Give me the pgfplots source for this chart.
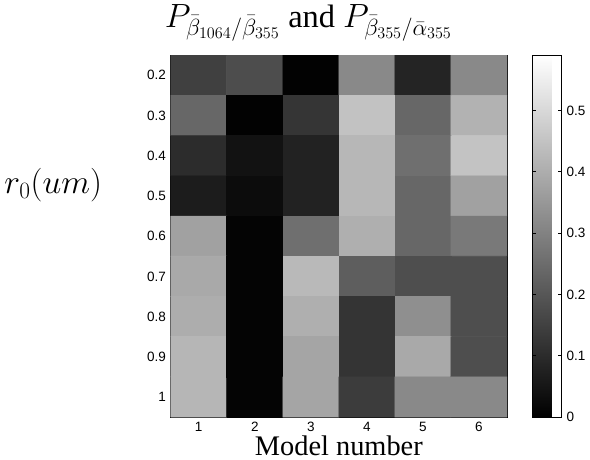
\documentclass[border=0pt]{standalone}
\usepackage{fontspec}
\setmainfont{Liberation Serif}
\setsansfont{Liberation Sans}
\usepackage{pgfplots}
\pgfplotsset{compat=1.18}

% cell values, rows r0 = 0.2 ... 1, columns model 1 ... 6
\pgfplotstableread{
x y c
1 0.2 0.148
2 0.2 0.176
3 0.2 0.005
4 0.2 0.315
5 0.2 0.083
6 0.2 0.315
1 0.3 0.236
2 0.3 0.005
3 0.3 0.122
4 0.3 0.445
5 0.3 0.236
6 0.3 0.408
1 0.4 0.102
2 0.4 0.042
3 0.4 0.079
4 0.4 0.421
5 0.4 0.255
6 0.4 0.449
1 0.5 0.065
2 0.5 0.028
3 0.5 0.079
4 0.5 0.421
5 0.5 0.236
6 0.5 0.370
1 0.6 0.370
2 0.6 0.009
3 0.6 0.255
4 0.6 0.403
5 0.6 0.236
6 0.6 0.278
1 0.7 0.389
2 0.7 0.009
3 0.7 0.426
4 0.7 0.217
5 0.7 0.180
6 0.7 0.180
1 0.8 0.398
2 0.8 0.009
3 0.8 0.403
4 0.8 0.120
5 0.8 0.329
6 0.8 0.180
1 0.9 0.419
2 0.9 0.009
3 0.9 0.380
4 0.9 0.120
5 0.9 0.389
6 0.9 0.180
1 1.0 0.419
2 1.0 0.009
3 1.0 0.380
4 1.0 0.139
5 1.0 0.315
6 1.0 0.315
}\cells

\begin{document}
\begin{tikzpicture}
\begin{axis}[
    scale only axis,
    width=249pt, height=268pt,
    xmin=0.5, xmax=6.5,
    ymin=0.15, ymax=1.05,
    y dir=reverse,
    xtick={1,...,6},
    ytick={0.2,0.3,0.4,0.5,0.6,0.7,0.8,0.9,1.0},
    yticklabels={0.2,0.3,0.4,0.5,0.6,0.7,0.8,0.9,1},
    tick align=inside,
    major tick length=3pt,
    tick style={black, line width=0.5pt},
    axis line style={line width=0.8pt},
    /pgf/number format/assume math mode=true,
    ticklabel style={font=\sffamily\fontsize{10}{11}\selectfont},
    colormap/blackwhite,
    point meta min=0, point meta max=0.59,
    title={$P_{\bar\beta_{1064}/\bar\beta_{355}}$ and $P_{\bar\beta_{355}/\bar\alpha_{355}}$},
    title style={at={(0.41,1)}, anchor=south, yshift=1pt,
                 font=\fontsize{24}{26}\selectfont},
    xlabel={Model number},
    xlabel style={font=\fontsize{21}{23}\selectfont, yshift=4pt},
    ylabel={$r_0\bigl(um\bigr)$},
    ylabel style={rotate=-90, anchor=east,
                  at={(axis description cs:-0.19,0.64)},
                  font=\fontsize{25}{27}\selectfont},
    colorbar,
    colorbar style={
        at={(1.075,1)}, anchor=north west,
        width=22pt,
        ytick={0,0.1,0.2,0.3,0.4,0.5},
        yticklabels={0,0.1,0.2,0.3,0.4,0.5},
        tick align=inside,
        major tick length=3pt,
        yticklabel pos=right,
        ticklabel style={font=\sffamily\fontsize{10}{11}\selectfont},
        axis line style={line width=0.8pt},
    },
]
\addplot [matrix plot*, mesh/cols=6, point meta=explicit]
    table [x=x, y=y, meta=c] {\cells};
\end{axis}
\end{tikzpicture}
\end{document}
